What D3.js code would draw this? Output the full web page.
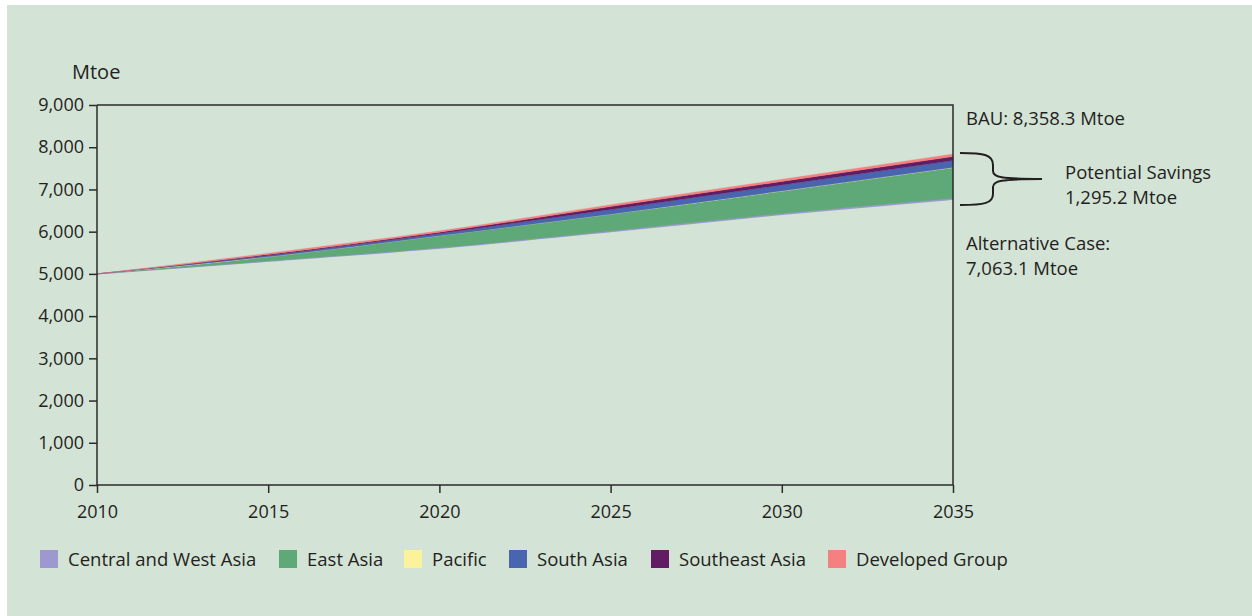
<!DOCTYPE html>
<html><head><meta charset="utf-8">
<script src="https://cdn.jsdelivr.net/npm/d3@7"></script>
<style>
html,body{margin:0;padding:0;background:#fff;}
svg text{font-family:"Open Sans","Noto Sans",sans-serif;fill:#231f20;}
</style></head>
<body>
<svg id="c" width="1252" height="616"></svg>
<script>
const years = [2010, 2015, 2020, 2025, 2030, 2035];
const altCase = [5000, 5300, 5610, 6000, 6410, 6767];
const centralWestAsia = [0, 5, 9, 13, 18, 23];
const eastAsia = [0, 100, 285, 400, 530, 725];
const pacific = [0, 1, 1, 2, 3, 3];
const southAsia = [0, 32, 50, 110, 145, 166];
const southeastAsia = [0, 22, 32, 70, 84, 95];
const developedGroup = [0, 30, 33, 45, 50, 63];
const seriesNames = ["Central and West Asia", "East Asia", "Pacific", "South Asia", "Southeast Asia", "Developed Group"];
const seriesColors = ["#9d99cf", "#5ea977", "#fbf39c", "#4a65b0", "#621c63", "#f4807f"];
const yTicks = [0, 1000, 2000, 3000, 4000, 5000, 6000, 7000, 8000, 9000];
const xTicks = [2010, 2015, 2020, 2025, 2030, 2035];
const bauLabel = "BAU: 8,358.3 Mtoe";
const savingsLabel = ["Potential Savings", "1,295.2 Mtoe"];
const altLabel = ["Alternative Case:", "7,063.1 Mtoe"];

const seriesValues = [centralWestAsia, eastAsia, pacific, southAsia, southeastAsia, developedGroup];
const table = years.map((yr, i) => {
  const o = {year: yr, base: altCase[i]};
  seriesNames.forEach((n, k) => o[n] = seriesValues[k][i]);
  return o;
});

const svg = d3.select("#c");
svg.append("rect").attr("x", 7).attr("y", 5).attr("width", 1245).attr("height", 611).attr("fill", "#d3e3d6");

const m = {l: 97, r: 953, t: 105, b: 485};
const x = d3.scaleLinear().domain([2010, 2035]).range([m.l, m.r]);
const y = d3.scaleLinear().domain([0, 9000]).range([m.b, m.t]);

const stack = d3.stack().keys(seriesNames);
const layers = stack(table);
const area = d3.area()
  .x(d => x(d.data.year))
  .y0(d => y(d.data.base + d[0]))
  .y1(d => y(d.data.base + d[1]))
  .curve(d3.curveMonotoneX);

svg.append("g").selectAll("path").data(layers).join("path")
  .attr("d", area)
  .attr("fill", (d, i) => seriesColors[i])
  .attr("stroke", (d, i) => seriesColors[i])
  .attr("stroke-width", (d, i) => i === 0 ? 1.2 : 0.3);

// axes
const axCol = "#2b2b2b";
const yAxis = svg.append("g").attr("transform", `translate(${m.l},0)`)
  .call(d3.axisLeft(y).tickValues(yTicks).tickFormat(d3.format(",")).tickSize(8).tickPadding(5));
const xAxis = svg.append("g").attr("transform", `translate(0,${m.b})`)
  .call(d3.axisBottom(x).tickValues(xTicks).tickFormat(d3.format("d")).tickSize(8).tickPadding(12));
[yAxis, xAxis].forEach(g => {
  g.select(".domain").attr("stroke", axCol).attr("stroke-width", 1.5);
  g.selectAll(".tick line").attr("stroke", axCol).attr("stroke-width", 1.5);
  g.selectAll(".tick text").attr("font-size", 18).attr("fill", "#231f20")
    .style("font-family", '"Open Sans","Noto Sans",sans-serif');
});
xAxis.select(".domain").attr("d", `M${m.l},0H${m.r}`);
yAxis.select(".domain").attr("d", `M0,${m.b}V${m.t}`);
// frame top & right
svg.append("path").attr("d", `M${m.l},${m.t}H${m.r}V${m.b}`).attr("fill", "none")
  .attr("stroke", axCol).attr("stroke-width", 1.5);

svg.append("text").attr("x", 72).attr("y", 79).attr("font-size", 20).text("Mtoe");

// annotations
svg.append("text").attr("x", 966).attr("y", 125).attr("font-size", 18.5).text(bauLabel);
const sv = svg.append("text").attr("x", 1065).attr("y", 179).attr("font-size", 18.5);
savingsLabel.forEach((t, i) => sv.append("tspan").attr("x", 1065).attr("y", 179 + i * 25).text(t));
const al = svg.append("text").attr("x", 966).attr("y", 250).attr("font-size", 18.5);
altLabel.forEach((t, i) => al.append("tspan").attr("x", 966).attr("y", 250 + i * 25).text(t));

svg.append("path")
  .attr("d", "M960,153 C985,153 993,155 993,165 L993,171 C993,177 1000,179 1042,179 C1000,179 993,181 993,187 L993,194 C993,203 985,205 960,205")
  .attr("fill", "none").attr("stroke", "#231f20").attr("stroke-width", 2);

// legend
const legendX = [40, 279, 404, 509, 651, 828];
const lg = svg.append("g");
seriesNames.forEach((n, i) => {
  lg.append("rect").attr("x", legendX[i]).attr("y", 550).attr("width", 18).attr("height", 18).attr("fill", seriesColors[i]);
  lg.append("text").attr("x", legendX[i] + 28).attr("y", 566).attr("font-size", 18.5).text(n);
});
</script>
</body></html>
